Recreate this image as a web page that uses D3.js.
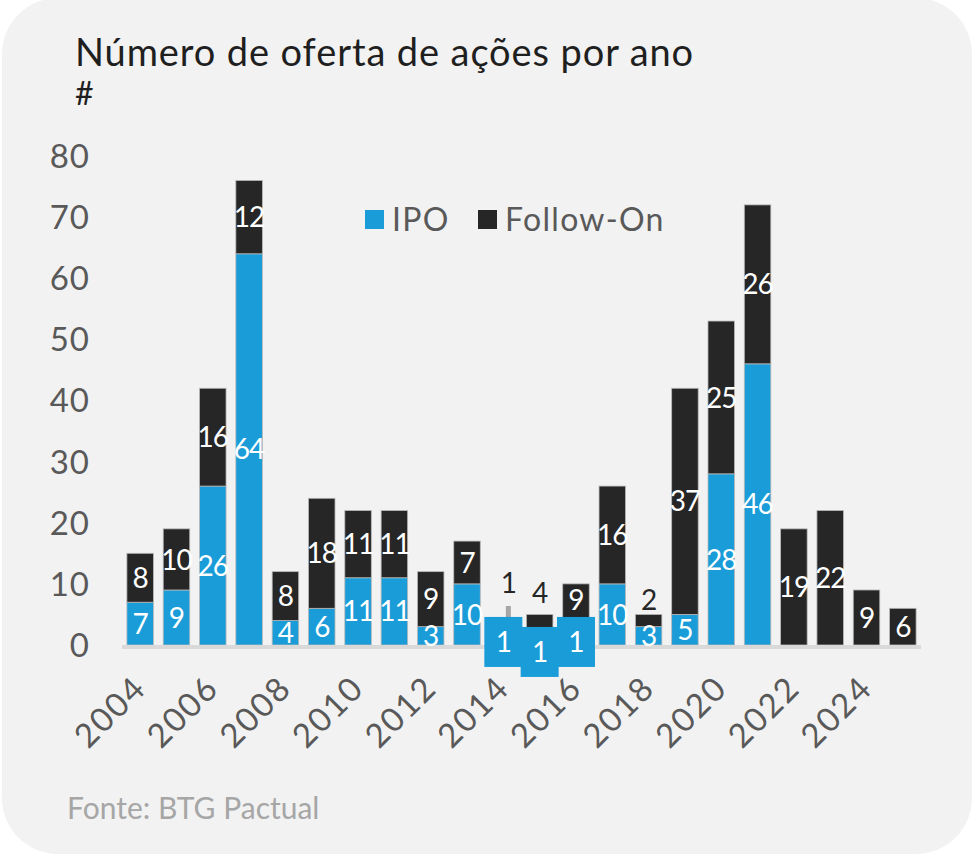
<!DOCTYPE html>
<html>
<head>
<meta charset="utf-8">
<script src="https://cdn.jsdelivr.net/npm/d3@7"></script>
<style>
  body { margin: 0; background: #ffffff; }
  svg { display: block; font-family: Lato, "Open Sans", sans-serif; }
</style>
</head>
<body>
<script>
// dados
var years = [2004, 2005, 2006, 2007, 2008, 2009, 2010, 2011, 2012, 2013, 2014,
             2015, 2016, 2017, 2018, 2019, 2020, 2021, 2022, 2023, 2024, 2025];
var ipo      = [7, 9, 26, 64, 4, 6, 11, 11, 3, 10, 1, 1, 1, 10, 3, 5, 28, 46, 0, 0, 0, 0];
var followOn = [8, 10, 16, 12, 8, 18, 11, 11, 9, 7, 1, 4, 9, 16, 2, 37, 25, 26, 19, 22, 9, 6];
var yTicks = [0, 10, 20, 30, 40, 50, 60, 70, 80];
var seriesNames = ["IPO", "Follow-On"];

var width = 979,
    height = 856;

var colors = { "IPO": "#1a9cd8", "Follow-On": "#262626" };

var svg = d3.select("body")
    .append("svg")
    .attr("width", width)
    .attr("height", height);

// painel cinza com cantos arredondados
svg.append("rect")
    .attr("x", 2).attr("y", -2)
    .attr("width", 970).attr("height", 856)
    .attr("rx", 56).attr("ry", 56)
    .attr("fill", "#f2f2f2");

// titulo
svg.append("text")
    .attr("x", 75).attr("y", 66)
    .attr("font-size", 38)
    .attr("letter-spacing", 0.9)
    .attr("fill", "#1f1f1f")
    .text("Número de oferta de ações por ano");
svg.append("text")
    .attr("x", 75).attr("y", 105)
    .attr("font-size", 32)
    .attr("fill", "#1f1f1f")
    .text("#");

var x = d3.scaleBand()
    .domain(years)
    .range([122, 921])
    .paddingInner(0.27)
    .paddingOuter(0.135);

var y = d3.scaleLinear()
    .domain([0, 80])
    .range([645, 156]);

var rows = years.map(function(yr, i) {
    return { year: yr, "IPO": ipo[i], "Follow-On": followOn[i] };
});
var stacked = d3.stack().keys(seriesNames)(rows);

// eixo y (so rotulos)
svg.append("g")
    .selectAll("text")
    .data(yTicks)
    .enter()
    .append("text")
    .attr("x", 90)
    .attr("y", function(d) { return y(d); })
    .attr("dy", "0.36em")
    .attr("text-anchor", "end")
    .attr("font-size", 33)
    .attr("letter-spacing", 1)
    .attr("fill", "#595959")
    .text(function(d) { return d; });

// linha de leader do rotulo de 2014
var leaderYear = 2014;
var li = years.indexOf(leaderYear);
svg.append("line")
    .attr("x1", x(leaderYear) + x.bandwidth() / 2 + 5)
    .attr("x2", x(leaderYear) + x.bandwidth() / 2 + 5)
    .attr("y1", 606)
    .attr("y2", y(ipo[li] + followOn[li] / 2))
    .attr("stroke", "#a6a6a6")
    .attr("stroke-width", 5);

// barras empilhadas
svg.append("g")
    .selectAll("g")
    .data(stacked)
    .enter()
    .append("g")
    .attr("fill", function(d) { return colors[d.key]; })
    .selectAll("rect")
    .data(function(d) { return d; })
    .enter()
    .filter(function(d) { return d[1] - d[0] > 0; })
    .append("rect")
    .attr("x", function(d) { return x(d.data.year); })
    .attr("width", x.bandwidth())
    .attr("y", function(d) { return y(d[1]); })
    .attr("height", function(d) { return y(d[0]) - y(d[1]); })
    .attr("stroke", "#b8b8b8")
    .attr("stroke-width", 0.8);

// linha do eixo x
svg.append("line")
    .attr("x1", 122).attr("x2", 921)
    .attr("y1", 647).attr("y2", 647)
    .attr("stroke", "#d9d9d9")
    .attr("stroke-width", 4);

// rotulos de dados
var boxedIpoYears = [2014, 2015, 2016];
var ipoNudge = { 2015: 10 };
var foNudge = { 2016: -11 };
var outsideFoOffset = { 2014: -50, 2015: -22, 2018: -15 };
var labelFont = 28;

var ipoLabels = svg.append("g");
stacked[0].forEach(function(d) {
    var v = d[1] - d[0];
    if (v <= 0) return;
    var cx = x(d.data.year) + x.bandwidth() / 2;
    var cy = y((d[0] + d[1]) / 2) + (ipoNudge[d.data.year] || 0);
    if (boxedIpoYears.indexOf(d.data.year) >= 0) {
        ipoLabels.append("rect")
            .attr("x", cx - 19).attr("y", cy - 25)
            .attr("width", 38).attr("height", 50)
            .attr("fill", colors["IPO"]);
    }
    ipoLabels.append("text")
        .attr("x", cx).attr("y", cy)
        .attr("dy", "0.36em")
        .attr("text-anchor", "middle")
        .attr("font-size", labelFont)
        .attr("letter-spacing", -1)
        .attr("fill", "#ffffff")
        .text(v);
});

var foLabels = svg.append("g");
stacked[1].forEach(function(d) {
    var v = d[1] - d[0];
    if (v <= 0) return;
    var cx = x(d.data.year) + x.bandwidth() / 2;
    var off = outsideFoOffset[d.data.year];
    var cy, fill;
    if (off !== undefined) {
        cy = y(d[1]) + off;
        fill = "#262626";
        if (d.data.year === leaderYear) cx += 5;
    } else {
        cy = y((d[0] + d[1]) / 2) + (foNudge[d.data.year] || 0);
        fill = "#ffffff";
    }
    foLabels.append("text")
        .attr("x", cx).attr("y", cy)
        .attr("dy", "0.36em")
        .attr("text-anchor", "middle")
        .attr("font-size", labelFont)
        .attr("letter-spacing", -1)
        .attr("fill", fill)
        .text(v);
});

// eixo x: anos pares, rotacionados
svg.append("g")
    .selectAll("text")
    .data(years.filter(function(d) { return d % 2 === 0; }))
    .enter()
    .append("text")
    .attr("transform", function(d) {
        return "translate(" + (x(d) + x.bandwidth() / 2 + 8) + ",690) rotate(-45)";
    })
    .attr("text-anchor", "end")
    .attr("font-size", 33)
    .attr("letter-spacing", 2)
    .attr("fill", "#595959")
    .text(function(d) { return d; });

// legenda
var legend = svg.append("g");
var legendX = [365, 478];
seriesNames.forEach(function(name, i) {
    legend.append("rect")
        .attr("x", legendX[i]).attr("y", 210)
        .attr("width", 19).attr("height", 19)
        .attr("fill", colors[name]);
    legend.append("text")
        .attr("x", legendX[i] + 27).attr("y", 219.5)
        .attr("dy", "0.36em")
        .attr("font-size", 32)
        .attr("letter-spacing", 1.3)
        .attr("fill", "#595959")
        .text(name);
});

// fonte
svg.append("text")
    .attr("x", 67).attr("y", 819)
    .attr("font-size", 30)
    .attr("fill", "#a6a6a6")
    .text("Fonte: BTG Pactual");
</script>
</body>
</html>
